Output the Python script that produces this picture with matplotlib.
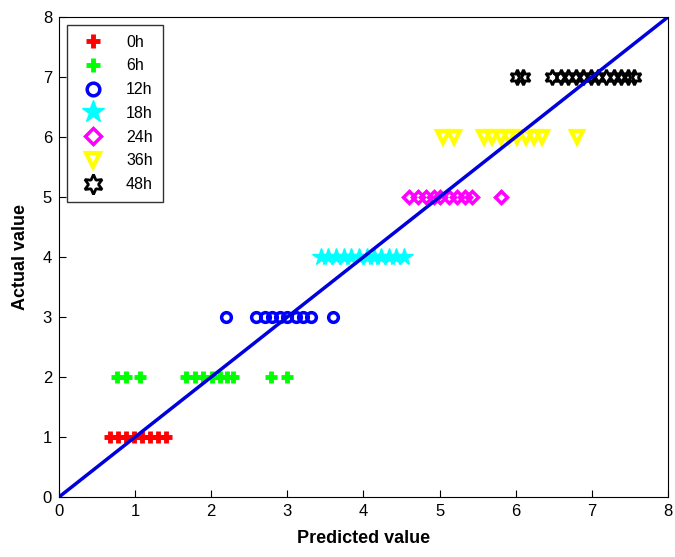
import numpy as np
import matplotlib.pyplot as plt

plt.rcParams['font.family'] = ['Liberation Sans', 'DejaVu Sans']

# predicted values for each actual class
x_0h = [0.67, 0.78, 0.88, 0.99, 1.09, 1.19, 1.30, 1.40]
x_6h = [0.76, 0.88, 1.07, 1.67, 1.79, 1.89, 2.01, 2.12, 2.21, 2.29, 2.79, 3.00]
x_12h = [2.19, 2.59, 2.70, 2.80, 2.90, 3.00, 3.11, 3.21, 3.31, 3.60]
x_18h = [3.44, 3.54, 3.64, 3.74, 3.84, 3.94, 4.04, 4.14, 4.23, 4.33, 4.43, 4.53]
x_24h = [4.60, 4.71, 4.82, 4.92, 5.01, 5.12, 5.23, 5.33, 5.43, 5.80]
x_36h = [5.04, 5.19, 5.58, 5.69, 5.80, 5.91, 6.02, 6.13, 6.24, 6.35, 6.81]
x_48h = [6.02, 6.10, 6.48, 6.59, 6.69, 6.79, 6.89, 6.99, 7.08, 7.18, 7.29, 7.38, 7.48, 7.56]
actual = [1, 2, 3, 4, 5, 6, 7]
labels = ['0h', '6h', '12h', '18h', '24h', '36h', '48h']

fig = plt.figure(figsize=(6.75, 5.57), dpi=100)
ax = fig.add_axes([0.0874, 0.1077, 0.9022, 0.8618])

ax.plot(x_0h, [actual[0]] * len(x_0h), '+', color='red', ms=8, mew=3.5, ls='none', label=labels[0])
ax.plot(x_6h, [actual[1]] * len(x_6h), '+', color='#00ff00', ms=8, mew=3.5, ls='none', label=labels[1])
ax.plot(x_12h, [actual[2]] * len(x_12h), 'o', color='blue', mfc='none', ms=7, mew=2.5, ls='none', label=labels[2])
ax.plot(x_18h, [actual[3]] * len(x_18h), '*', color='cyan', ms=13, mew=1, ls='none', label=labels[3])
ax.plot(x_24h, [actual[4]] * len(x_24h), 'D', color='magenta', mfc='none', ms=6.5, mew=2.5, ls='none', label=labels[4])
ax.plot(x_36h, [actual[5]] * len(x_36h), 'v', color='yellow', mfc='none', ms=8, mew=3, ls='none', label=labels[5])
ax.plot(x_48h, [actual[6]] * len(x_48h), marker=(6, 1, 0), color='black', mfc='none', ms=11, mew=2, ls='none', label=labels[6])

ax.plot([0, 8], [0, 8], color='#0000dd', lw=2.5)

ax.set_xlim(0, 8)
ax.set_ylim(0, 8)
ax.tick_params(direction='in', labelsize=12, length=5, pad=5)
ax.set_xlabel('Predicted value', fontsize=13, fontweight='bold', labelpad=8)
ax.set_ylabel('Actual value', fontsize=13, fontweight='bold', labelpad=10)

leg = ax.legend(loc='upper left', fontsize=11.5, fancybox=False, edgecolor='black',
                borderpad=0.6, labelspacing=0.55, handlelength=2.0, handletextpad=1.1,
                borderaxespad=0.5, markerscale=1.3)
leg.get_frame().set_linewidth(1)

plt.savefig('out.png', dpi=100)
